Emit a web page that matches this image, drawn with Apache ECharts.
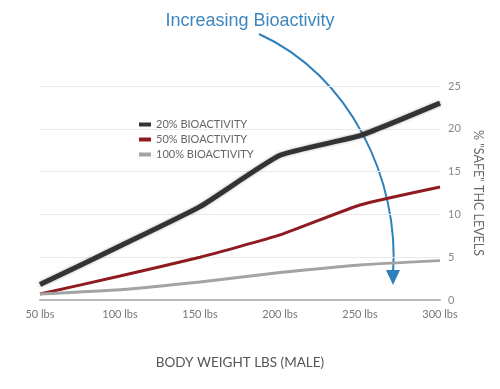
<!DOCTYPE html>
<html><head><meta charset="utf-8">
<script src="https://cdn.jsdelivr.net/npm/echarts@6/dist/echarts.min.js"></script>
<style>html,body{margin:0;padding:0;background:#fff}#c{width:500px;height:389px}</style>
</head><body><div id="c"></div>
<script>
const weights = [50, 100, 150, 200, 250, 300];
const bio20 = [1.8, 6.3, 10.9, 16.9, 19.2, 23.0];
const bio50 = [0.7, 2.8, 5.0, 7.6, 11.1, 13.2];
const bio100 = [0.7, 1.2, 2.1, 3.2, 4.1, 4.6];
const seriesNames = ['20% BIOACTIVITY', '50% BIOACTIVITY', '100% BIOACTIVITY'];
const yTicks = [0, 5, 10, 15, 20, 25];

const chart = echarts.init(document.getElementById('c'));
const pair = arr => arr.map((v, i) => [weights[i], v]);
const font = 'Lato, "Open Sans", sans-serif';
chart.setOption({
  animation: false,
  title: {
    text: 'Increasing Bioactivity', left: 'center', top: 7,
    textStyle: {color: '#3f86bd', fontSize: 18, fontWeight: 'normal', fontFamily: 'Arial, "Liberation Sans", sans-serif'}
  },
  legend: {
    orient: 'vertical', left: 134, top: 114, itemGap: 4,
    itemWidth: 12, itemHeight: 4, icon: 'rect',
    textStyle: {color: '#666', fontSize: 11, fontFamily: font},
    data: seriesNames
  },
  grid: {left: 40, right: 60, top: 86, bottom: 89},
  xAxis: {
    type: 'value', min: 50, max: 300, interval: 50,
    name: 'BODY WEIGHT LBS (MALE)', nameLocation: 'middle', nameGap: 56,
    nameTextStyle: {color: '#555', fontSize: 13.5, fontFamily: font},
    axisLine: {show: true, lineStyle: {color: '#bbb', width: 2}},
    axisTick: {show: false},
    splitLine: {show: false},
    axisLabel: {color: '#777', fontSize: 11, margin: 9, fontFamily: font, formatter: v => v + ' lbs'}
  },
  yAxis: {
    type: 'value', position: 'right', min: 0, max: 25, interval: 5,
    name: '% "SAFE" THC LEVELS', nameLocation: 'middle', nameRotate: -90, nameGap: 32,
    nameTextStyle: {color: '#666', fontSize: 12.5, fontFamily: font},
    axisLine: {show: false}, axisTick: {show: false},
    splitLine: {lineStyle: {color: '#e8e8e8', width: 1}},
    axisLabel: {color: '#888', fontSize: 11, margin: 8, fontFamily: font,
      formatter: v => yTicks.includes(v) ? String(v) : ''}
  },
  series: [
    {name: seriesNames[0], type: 'line', data: pair(bio20), symbol: 'none', smooth: 0.15,
      lineStyle: {color: '#333', width: 5, shadowColor: 'rgba(0,0,0,0.35)', shadowBlur: 3}, itemStyle: {color: '#333'}},
    {name: seriesNames[1], type: 'line', data: pair(bio50), symbol: 'none', smooth: 0.15,
      lineStyle: {color: '#8e1b1f', width: 3}, itemStyle: {color: '#8e1b1f'}},
    {name: seriesNames[2], type: 'line', data: pair(bio100), symbol: 'none', smooth: 0.15,
      lineStyle: {color: '#a3a3a3', width: 3}, itemStyle: {color: '#a3a3a3'}}
  ],
  graphic: [
    {type: 'bezierCurve', silent: true,
      shape: {x1: 259, y1: 34, cpx1: 350, cpy1: 75, cpx2: 400, cpy2: 180, x2: 393, y2: 274},
      style: {stroke: '#2f7fba', lineWidth: 2, fill: null}},
    {type: 'polygon', silent: true,
      shape: {points: [[386, 270], [400, 270], [393, 285]]},
      style: {fill: '#2f7fba'}}
  ]
});
</script></body></html>
